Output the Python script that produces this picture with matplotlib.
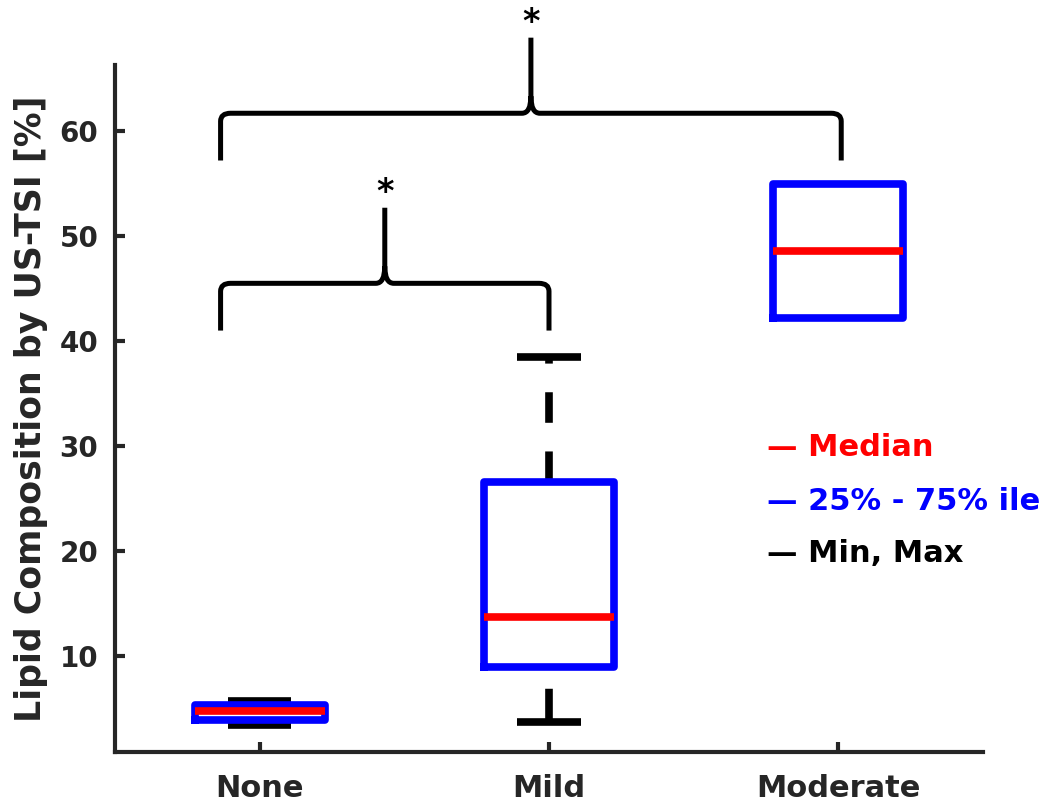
import numpy as np
import matplotlib
matplotlib.use('Agg')
import matplotlib.pyplot as plt
from matplotlib.path import Path
from matplotlib.patches import PathPatch

# box statistics
groups = ['None', 'Mild', 'Moderate']
medians = [4.75, 13.7, 48.6]
q1 = [3.9, 9.0, 42.2]
q3 = [5.3, 26.6, 55.0]
mins = [3.45, 3.7, 42.2]
maxs = [5.7, 38.5, 55.0]

# significance braces: (left x, right x, foot y, bar y, tip y)
brace_left = [0.865, 0.865]
brace_right = [2.0, 3.01]
brace_foot = [41.0, 57.2]
brace_bar = [45.5, 61.7]
brace_tip = [52.7, 68.9]
star_y = [53.2, 69.4]

legend_labels = ['Median', '25% - 75% ile', 'Min, Max']
legend_colors = ['#ff0000', '#0000ff', '#000000']
legend_y = [29.9, 24.7, 19.75]

plt.rcParams['font.family'] = ['DejaVu Sans']
plt.rcParams['font.weight'] = 'bold'
axis_col = '#262626'

fig = plt.figure(figsize=(10.5, 8.09), dpi=100)
ax = fig.add_axes([0.1095, 0.0705, 0.8267, 0.8492])

pos = np.arange(1, len(groups) + 1)
stats = []
for i, g in enumerate(groups):
    stats.append({'label': g, 'med': medians[i], 'q1': q1[i], 'q3': q3[i],
                  'whislo': mins[i], 'whishi': maxs[i], 'fliers': []})

lw = 5.5
bp = ax.bxp(stats, positions=pos, widths=0.45, capwidths=0.22,
            showfliers=False,
            boxprops=dict(color='#0000ff', linewidth=lw, zorder=3),
            medianprops=dict(color='#ff0000', linewidth=lw, zorder=4, solid_capstyle='butt'),
            whiskerprops=dict(color='black', linewidth=lw, zorder=2,
                              linestyle=(0, (4.0, 3.75)), dash_capstyle='butt'),
            capprops=dict(color='black', linewidth=lw, zorder=2, solid_capstyle='butt'))
# lower whisker of Mild starts with a gap next to the box
bp['whiskers'][2].set_linestyle((4.9, (4.0, 3.75)))
# Moderate has no whiskers drawn
for art in bp['whiskers'][4:6] + bp['caps'][4:6]:
    art.set_visible(False)

ax.set_xlim(0.5, 3.5)
ax.set_ylim(0.86, 66.3)
ax.set_yticks([10, 20, 30, 40, 50, 60])
ax.set_xticks(pos)
ax.set_xticklabels(groups)

for s in ['top', 'right']:
    ax.spines[s].set_visible(False)
for s in ['left', 'bottom']:
    ax.spines[s].set_linewidth(3)
    ax.spines[s].set_color(axis_col)
ax.tick_params(direction='in', length=7, width=3, color=axis_col,
               labelcolor=axis_col)
ax.tick_params(axis='y', labelsize=20, pad=12)
ax.tick_params(axis='x', labelsize=22, pad=16)
for lab in ax.get_xticklabels() + ax.get_yticklabels():
    lab.set_fontweight('bold')
ax.set_ylabel('Lipid Composition by US-TSI [%]', fontsize=25,
              fontweight='bold', color=axis_col, labelpad=8)

# curly braces
rx, ry = 10 / 290, 8 / 10.5
cx, cy = 9 / 290, 17 / 10.5
for i in range(len(brace_left)):
    x0, x1 = brace_left[i], brace_right[i]
    xm = (x0 + x1) / 2
    yb, yh, yt = brace_foot[i], brace_bar[i], brace_tip[i]
    verts = [(x0, yb), (x0, yh - ry), (x0, yh), (x0 + rx, yh),
             (xm - cx, yh), (xm, yh), (xm, yh + cy), (xm, yt),
             (x1, yb), (x1, yh - ry), (x1, yh), (x1 - rx, yh),
             (xm + cx, yh), (xm, yh), (xm, yh + cy)]
    codes = [Path.MOVETO, Path.LINETO, Path.CURVE3, Path.CURVE3,
             Path.LINETO, Path.CURVE3, Path.CURVE3, Path.LINETO,
             Path.MOVETO, Path.LINETO, Path.CURVE3, Path.CURVE3,
             Path.LINETO, Path.CURVE3, Path.CURVE3]
    ax.add_patch(PathPatch(Path(verts, codes), fill=False, edgecolor='black',
                           linewidth=3.6, clip_on=False, capstyle='butt',
                           joinstyle='round'))
    ax.text(xm, star_y[i] - 0.0, '*', ha='center', va='baseline', fontsize=24,
            fontweight='bold', color='black', clip_on=False)

# text legend
for i, (lab, col) in enumerate(zip(legend_labels, legend_colors)):
    ax.text(2.755, legend_y[i], '\u2014 ' + lab, color=col, fontsize=22,
            fontweight='bold', va='center', ha='left')

fig.savefig('out.png', dpi=100)
